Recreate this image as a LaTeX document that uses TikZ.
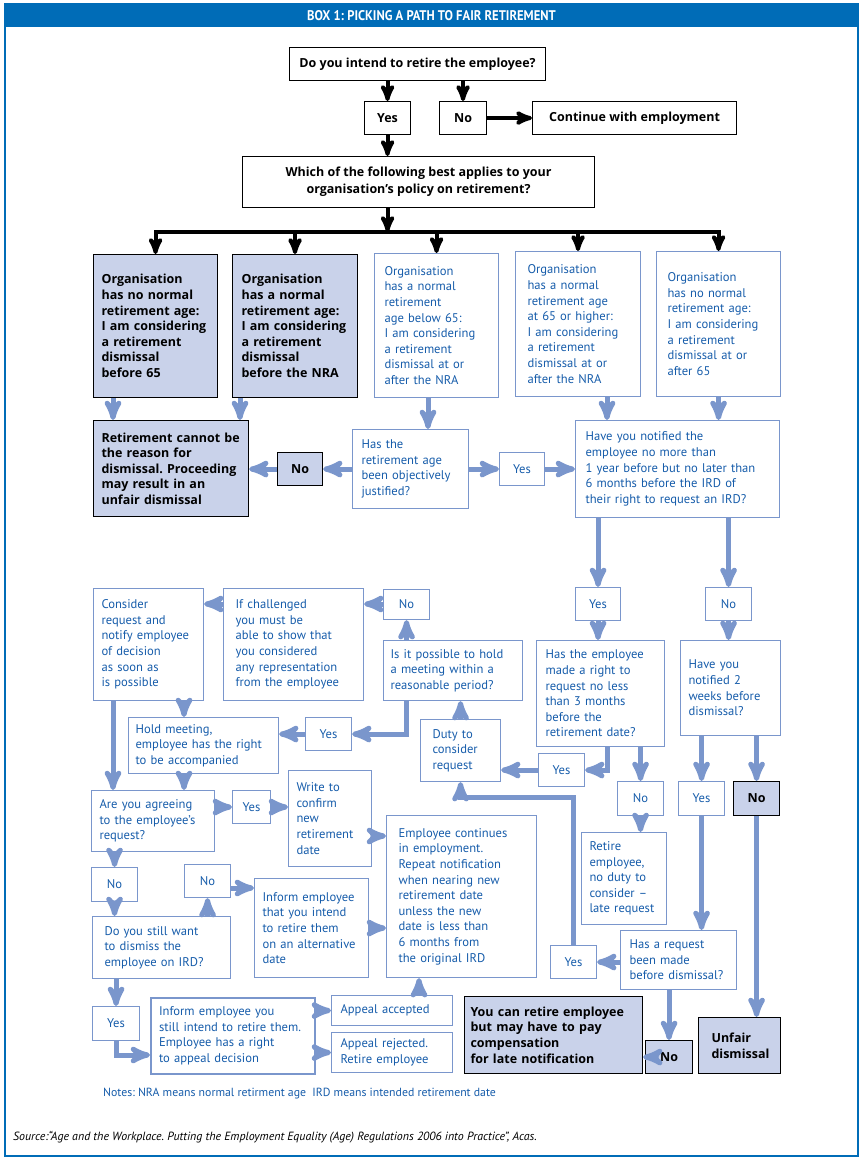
\documentclass[tikz,border=0pt]{standalone}
\usepackage{fontspec}
\setmainfont{PT Sans}
\newfontfamily\gras{Open Sans}
\usetikzlibrary{arrows}
\definecolor{bandeau}{RGB}{0,108,183}
\definecolor{bleupale}{RGB}{201,210,234}
\definecolor{bordbleu}{RGB}{122,150,204}
\definecolor{bleutexte}{RGB}{22,92,170}
\frenchspacing

\begin{document}
\begin{tikzpicture}[x=1pt, y=-1pt, >=stealth', thin,
  boxwh/.style n args={3}{inner xsep=#3pt, text width=#1pt-2*#3pt, minimum height=#2pt},
  cellwh/.style 2 args={minimum width=#1pt, minimum height=#2pt}]
  \tikzstyle{base}=[anchor=north west, inner xsep=10pt, inner ysep=2pt, font=\fontsize{12.6}{15.6}\selectfont]
  \tikzstyle{noir}=[base, draw=black, line width=1.1pt, fill=white, text=black, align=center, inner xsep=2pt, font=\fontsize{12.5}{15.6}\selectfont\gras\bfseries]
  \tikzstyle{pale}=[base, draw=black, line width=1.1pt, fill=bleupale, text=black, align=left, font=\fontsize{12.5}{15.6}\selectfont\gras\bfseries]
  \tikzstyle{palepetit}=[pale, align=center, inner xsep=2pt]
  \tikzstyle{bleu}=[base, draw=bordbleu, line width=1.1pt, text=bleutexte, align=left]
  \tikzstyle{petit}=[bleu, align=center, inner xsep=2pt]
  \tikzstyle{noire}=[->, draw=black, line width=4pt]
  \tikzstyle{fleche}=[->, draw=bordbleu, line width=5pt]

  \useasboundingbox (0,0) rectangle (863,1161);
  % cadre et bandeau
  \fill[bandeau] (5,4) rectangle (858,27);
  \draw[bandeau, line width=1.2pt] (5,4) rectangle (858,1156);
  \node[text=white, font=\fontsize{14}{14}\selectfont\bfseries] (titre) at (431.5,16)
    {\scalebox{0.9}[1]{BOX 1: PICKING A PATH TO FAIR RETIREMENT}};

  % lignes et colonnes des connecteurs
  \coordinate (bus) at (0,232);
  \coordinate (colA) at (113,0);
  \coordinate (colB) at (240,0);
  \coordinate (colC) at (428,0);
  \coordinate (colD) at (607,0);
  \coordinate (colE) at (184,0);
  \coordinate (colF) at (419,0);
  \coordinate (rowA) at (0,604);
  \coordinate (rowB) at (0,797);
  \coordinate (rowC) at (0,836);
  \coordinate (rowD) at (0,888);
  \coordinate (rowE) at (0,1055);

  % haut
  \node[noir, cellwh={256}{33}] (Q1) at (289,47) {Do you intend to retire the employee?};
  \node[noir, cellwh={46}{33}] (YesA) at (364,101) {Yes};
  \node[noir, cellwh={47}{33}] (NoA) at (439,101) {No};
  \node[noir, cellwh={204}{33}] (Cont) at (532,101) {Continue with employment};
  \node[noir, cellwh={352}{51}, font=\fontsize{12.5}{17}\selectfont\gras\bfseries] (Q2) at (242,156)
    {Which of the following best applies to your\\organisation’s policy on retirement?};

  % les cinq cas
  \node[pale, boxwh={124}{143}{8}] (B1) at (93,254) {Organisation\\has no normal\\retirement age:\\I am considering\\a retirement\\dismissal\\before 65};
  \node[pale, boxwh={125}{143}{9}] (B2) at (232,254) {Organisation\\has a normal\\retirement age:\\I am considering\\a retirement\\dismissal\\before the NRA};
  \node[bleu, boxwh={124}{144}{10}] (B3) at (374,253) {Organisation\\has a normal\\retirement\\age below 65:\\I am considering\\a retirement\\dismissal at or\\after the NRA};
  \node[bleu, boxwh={125}{145}{12}] (B4) at (515,251) {Organisation\\has a normal\\retirement age\\at 65 or higher:\\I am considering\\a retirement\\dismissal at or\\after the NRA};
  \node[bleu, boxwh={124}{145}{11}] (B5) at (656,251) {Organisation\\has no normal\\retirement age:\\I am considering\\a retirement\\dismissal at or\\after 65};

  \node[pale, boxwh={155}{96}{8}] (R1) at (93,420) {Retirement cannot be\\the reason for\\dismissal. Proceeding\\may result in an\\unfair dismissal};
  \node[bleu, boxwh={116}{79}{9}] (J1) at (352,429) {Has the\\retirement age\\been objectively\\justified?};
  \node[palepetit, cellwh={45}{33}] (NoB) at (277,452) {No};
  \node[petit, cellwh={45}{33}] (YesB) at (499,452) {Yes};
  \node[bleu, boxwh={204}{97}{10}] (N1) at (575,420) {Have you notified the\\employee no more than\\1 year before but no later than\\6 months before the IRD of\\their right to request an IRD?};

  % partie droite
  \node[petit, cellwh={45}{33}] (YesC) at (575,587) {Yes};
  \node[petit, cellwh={46}{33}] (NoC) at (705,587) {No};
  \node[bleu, boxwh={128}{106}{9}] (E1) at (536,640) {Has the employee\\made a right to\\request no less\\than 3 months\\before the\\retirement date?};
  \node[bleu, boxwh={100}{95}{8}] (N2) at (680,640) {Have you\\notified 2\\weeks before\\dismissal?};
  \node[petit, cellwh={46}{33}] (YesD) at (538,753) {Yes};
  \node[petit, cellwh={46}{34}] (NoD) at (617,781) {No};
  \node[petit, cellwh={46}{34}] (YesE) at (678,781) {Yes};
  \node[palepetit, cellwh={46}{34}] (NoE) at (733,781) {No};
  \node[bleu, boxwh={85}{92}{8}] (R2) at (581,832) {Retire\\employee,\\no duty to\\consider –\\late request};
  \node[bleu, boxwh={116}{59}{9}] (H1) at (620,930) {Has a request\\been made\\before dismissal?};
  \node[petit, cellwh={46}{33}] (YesF) at (550,945) {Yes};
  \node[palepetit, cellwh={47}{33}] (NoI) at (645,1040) {No};
  \node[pale, boxwh={178}{77}{6}] (YC) at (464,996) {You can retire employee\\but may have to pay\\compensation\\for late notification};
  \node[pale, boxwh={82}{56}{13}] (Unf) at (698,1017) {Unfair\\dismissal};

  % partie centrale
  \node[bleu, boxwh={80}{62}{12}] (Duty) at (420,719) {Duty to\\consider\\request};
  \node[bleu, boxwh={139}{60}{7}] (Meet) at (383,640) {Is it possible to hold\\a meeting within a\\reasonable period?};
  \node[petit, cellwh={46}{30}] (NoF) at (383,589) {No};
  \node[bleu, boxwh={140}{112}{12}] (Chal) at (223,588) {If challenged\\you must be\\able to show that\\you considered\\any representation\\from the employee};
  \node[bleu, boxwh={110}{112}{8}] (Cons) at (93,588) {Consider\\request and\\notify employee\\of decision\\as soon as\\is possible};
  \node[petit, cellwh={46}{33}] (YesG) at (305,717) {Yes};
  \node[bleu, boxwh={150}{56}{7}] (Hold) at (128,717) {Hold meeting,\\employee has the right\\to be accompanied};
  \node[bleu, boxwh={123}{61}{8}] (Agree) at (91,790) {Are you agreeing\\to the employee’s\\request?};
  \node[petit, cellwh={38}{33}] (YesH) at (232,790) {Yes};
  \node[bleu, boxwh={83}{96}{8}] (Write) at (288,770) {Write to\\confirm\\new\\retirement\\date};
  \node[bleu, boxwh={150}{162}{12}] (EmpCont) at (386,815) {Employee continues\\in employment.\\Repeat notification\\when nearing new\\retirement date\\unless the new\\date is less than\\6 months from\\the original IRD};
  \node[petit, cellwh={46}{34}] (NoG) at (91,867) {No};
  \node[bleu, boxwh={138}{62}{12}] (Still) at (92,916) {Do you still want\\to dismiss the\\employee on IRD?};
  \node[petit, cellwh={46}{33}] (NoH) at (184,864) {No};
  \node[bleu, boxwh={114}{99}{8}] (Inf1) at (254,878) {Inform employee\\that you intend\\to retire them\\on an alternative\\date};
  \node[petit, cellwh={47}{34}] (YesI) at (92,1006) {Yes};
  \node[bleu, boxwh={164}{76}{8}, line width=2pt] (Inf2) at (150,997) {Inform employee you\\still intend to retire them.\\Employee has a right\\to appeal decision};
  \node[bleu, boxwh={121}{30}{9}] (AppA) at (331,995) {Appeal accepted};
  \node[bleu, boxwh={121}{40}{9}] (AppR) at (331,1032) {Appeal rejected.\\Retire employee};

  % notes et source
  \node[anchor=west, text=bleutexte, inner sep=0pt, font=\fontsize{11.8}{12}\selectfont] (notes) at (103,1094)
    {Notes: NRA means normal retirment age\ \ IRD means intended retirement date};
  \node[anchor=west, inner sep=0pt, font=\fontsize{11.9}{12}\selectfont\itshape] (source) at (13,1137)
    {Source:“Age and the Workplace. Putting the Employment Equality (Age) Regulations 2006 into Practice”, Acas.};

  % fleches noires
  \draw[noire] (YesA.north |- Q1.south) -- (YesA.north);
  \draw[noire] (NoA.north |- Q1.south) -- (NoA.north);
  \draw[noire] (NoA.east) -- (Cont.west);
  \draw[noire] (YesA.south) -- (YesA.south |- Q2.north);
  \draw[noire] (YesA.south |- Q2.south) -- (YesA.south |- bus);
  \draw[<->, draw=black, line width=4pt] (B1.north) -- (B1.north |- bus) -- (B5.north |- bus) -- (B5.north);
  \foreach \b in {B2,B3,B4}
    \draw[noire] (\b.north |- bus) -- (\b.north);

  % fleches bleues
  \draw[fleche] (colA |- B1.south) -- (colA |- R1.north);
  \draw[fleche] (colB |- B2.south) -- (colB |- R1.north);
  \draw[fleche] (colC |- B3.south) -- (colC |- J1.north);
  \draw[fleche] (J1.west) -- (NoB.east);
  \draw[fleche] (NoB.west) -- (NoB.west -| R1.east);
  \draw[fleche] (J1.east) -- (YesB.west);
  \draw[fleche] (YesB.east) -- (YesB.east -| N1.west);
  \draw[fleche] (colD |- B4.south) -- (colD |- N1.north);
  \draw[fleche] (B5.south) -- (B5.south |- N1.north);
  \draw[fleche] (YesC.north |- N1.south) -- (YesC.north);
  \draw[fleche] (NoC.north |- N1.south) -- (NoC.north);
  \draw[fleche] (YesC.south) -- (YesC.south |- E1.north);
  \draw[fleche] (NoC.south) -- (NoC.south |- N2.north);
  \draw[fleche] (colD |- E1.south) |- (YesD.east);
  \draw[fleche] (NoD.north |- E1.south) -- (NoD.north);
  \draw[fleche] (NoD.south) -- (NoD.south |- R2.north);
  \draw[fleche] (YesD.west) -- (YesD.west -| Duty.east);
  \draw[fleche] (YesE.north |- N2.south) -- (YesE.north);
  \draw[fleche] (NoE.north |- N2.south) -- (NoE.north);
  \draw[fleche] (YesE.south) -- (YesE.south |- H1.north);
  \draw[fleche] (NoE.south) -- (NoE.south |- Unf.north);
  \draw[fleche] (YesF.east -| H1.west) -- (YesF.east);
  \draw[fleche] (YesF.north) -- (YesF.north |- rowB) -| (Duty.south);
  \draw[fleche] (NoI.north |- H1.south) -- (NoI.north);
  \draw[fleche] (NoI.west) -- (NoI.west -| YC.east);
  \draw[fleche] (Duty.north) -- (Duty.north |- Meet.south);
  \draw[fleche] (NoF.south |- Meet.north) -- (NoF.south);
  \draw[fleche] (NoF.west |- rowA) -- (Chal.east |- rowA);
  \draw[fleche] (Chal.west |- rowA) -- (Cons.east |- rowA);
  \draw[fleche] (NoF.south |- Meet.south) |- (YesG.east);
  \draw[fleche] (YesG.west) -- (YesG.west -| Hold.east);
  \draw[fleche] (colE |- Cons.south) -- (colE |- Hold.north);
  \draw[fleche] (colA |- Cons.south) -- (colA |- Agree.north);
  \draw[fleche] (colE |- Hold.south) -- (colE |- Agree.north);
  \draw[fleche] (YesH.west -| Agree.east) -- (YesH.west);
  \draw[fleche] (YesH.east) -- (YesH.east -| Write.west);
  \draw[fleche] (Write.east |- rowC) -- (EmpCont.west |- rowC);
  \draw[fleche] (NoG.north |- Agree.south) -- (NoG.north);
  \draw[fleche] (NoG.south) -- (NoG.south |- Still.north);
  \draw[fleche] (NoH.south |- Still.north) -- (NoH.south);
  \draw[fleche] (NoH.east |- rowD) -- (Inf1.west |- rowD);
  \draw[fleche] (Inf1.east) -- (Inf1.east -| EmpCont.west);
  \draw[fleche] (YesI.north |- Still.south) -- (YesI.north);
  \draw[fleche] (YesI.south) |- (Inf2.west |- rowE);
  \draw[fleche] (AppA.west -| Inf2.east) -- (AppA.west);
  \draw[fleche] (AppR.west -| Inf2.east) -- (AppR.west);
  \draw[fleche] (colF |- AppA.north) -- (colF |- EmpCont.south);
\end{tikzpicture}
\end{document}
